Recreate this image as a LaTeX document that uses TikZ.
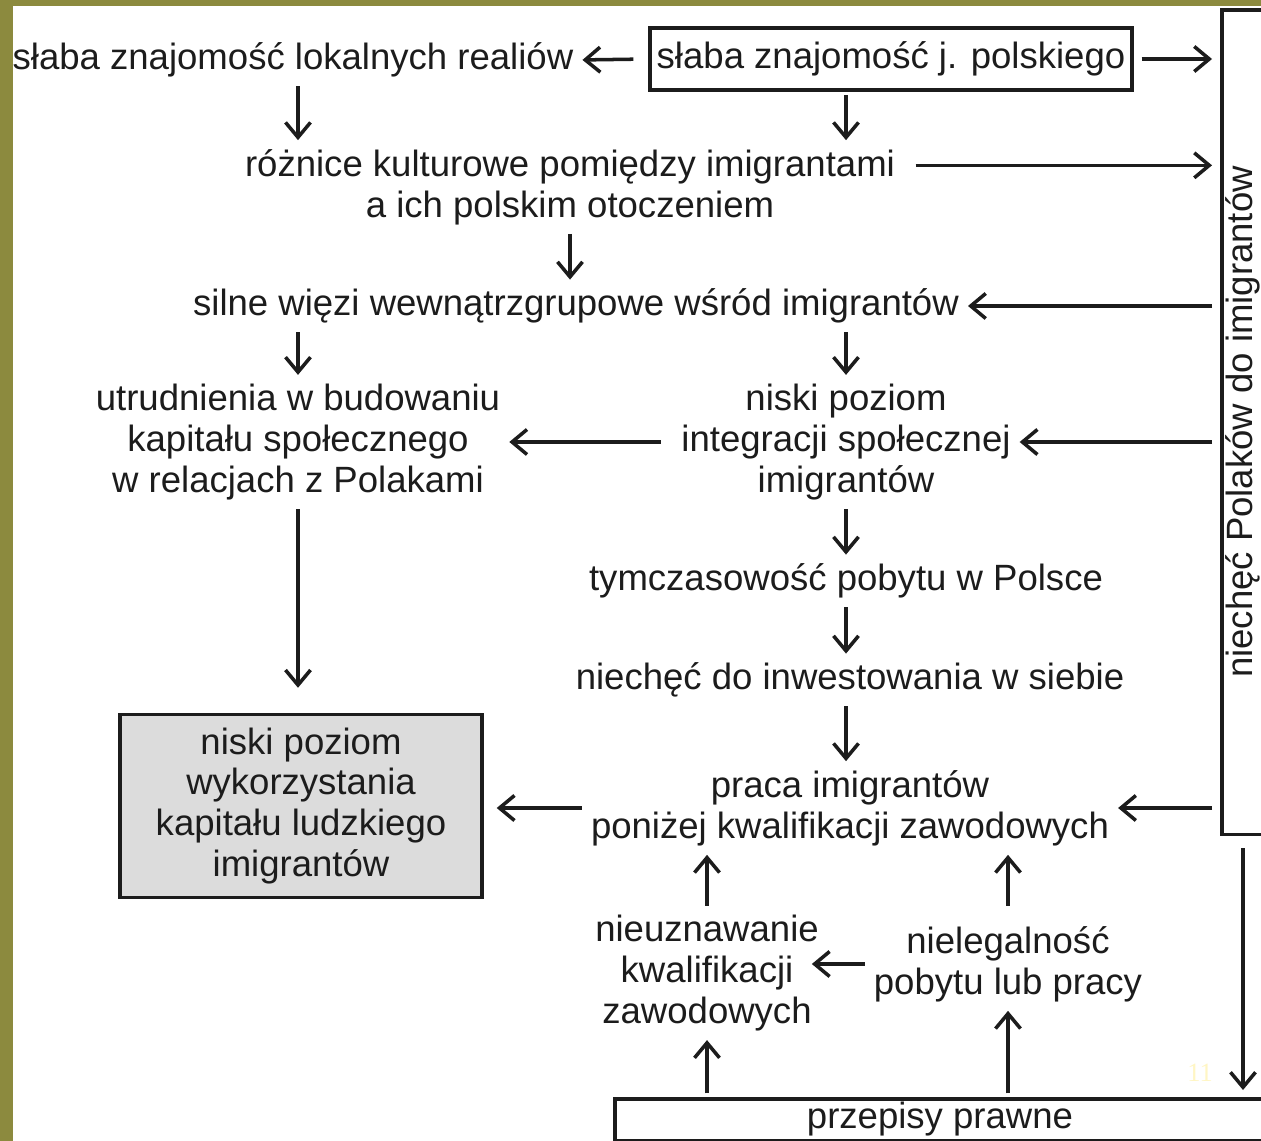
\documentclass[tikz,border=0pt]{standalone}
\usepackage{fontspec}
\setmainfont{Liberation Sans}
\newfontfamily\numfont{Liberation Serif}
\usetikzlibrary{arrows.meta,positioning,calc}

\definecolor{olivebg}{RGB}{140,138,62}
\definecolor{boxgray}{RGB}{220,220,220}
\definecolor{inkgray}{RGB}{28,28,28}
\definecolor{slideno}{RGB}{255,246,196}

\tikzset{
  lbl/.style={font=\fontsize{20.8}{23.3}\selectfont, text=inkgray, align=center, inner sep=3pt},
  frm/.style={draw=inkgray, line width=2pt},
  arr/.style={-{Straight Barb[length=0.3cm,width=0.5cm]}, line width=2pt, draw=inkgray, shorten <=2pt, shorten >=2pt},
}

\begin{document}
\begin{tikzpicture}[x=0.02cm, y=-0.02cm]
  % slide background
  \useasboundingbox (0,0) rectangle (1261,1141);
  \clip (0,0) rectangle (1261,1141);
  \fill[olivebg] (0,0) rectangle (1261,1141);
  \fill[white] (13,6) rectangle (1261,1141);

  % top row
  \node[lbl] (lok) at (293,60) {słaba znajomość lokalnych realiów};
  \node[lbl, frm, minimum width=9.64cm, minimum height=1.24cm] (pol) at (891,59) {słaba znajomość j. polskiego};

  % right frame (cut by the slide edge)
  \node[frm, minimum width=3cm, minimum height=16.5cm, anchor=north west] (neg) at (1220,8) {};
  \node[lbl, rotate=90] (negtxt) at (1243,422) {niechęć Polaków do imigrantów};

  % middle column
  \node[lbl] (roz) at (570,187) {różnice kulturowe pomiędzy imigrantami\\a ich polskim otoczeniem};
  \coordinate (rozr) at ($(roz.north east)!0.25!(roz.south east)$);
  \node[lbl] (wiez) at (576,306) {silne więzi wewnątrzgrupowe wśród imigrantów};
  \node[lbl] (utr) at (298,442) {utrudnienia w budowaniu\\kapitału społecznego\\w relacjach z Polakami};
  \node[lbl] (int) at (846,442) {niski poziom\\integracji społecznej\\imigrantów};
  \node[lbl] (tym) at (846,581) {tymczasowość pobytu w Polsce};
  \node[lbl] (inw) at (850,680) {niechęć do inwestowania w siebie};
  \node[lbl] (pra) at (850,808) {praca imigrantów\\poniżej kwalifikacji zawodowych};
  \node[lbl, frm, fill=boxgray, minimum width=7.24cm, minimum height=3.66cm] (kap) at (301,806) {niski poziom\\wykorzystania\\kapitału ludzkiego\\imigrantów};

  % bottom
  \node[lbl] (nieu) at (707,973) {nieuznawanie\\kwalifikacji\\zawodowych};
  \node[lbl] (nleg) at (1008,964) {nielegalność\\pobytu lub pracy};
  \node[frm, minimum width=15cm, minimum height=0.84cm, anchor=north west] (prz) at (613,1097) {};
  \node[lbl] (prztxt) at (940,1119) {przepisy prawne};
  \node[font=\numfont\fontsize{15}{15}\selectfont, text=slideno] (num) at (1200,1073) {11};

  % arrows
  \draw[arr, shorten <=0.3cm] (pol.west) -- (lok.east);
  \draw[arr, shorten <=0.16cm, shorten >=0.16cm] (pol.east) -- (pol.east -| neg.west);
  \draw[arr] (lok.south -| utr) -- (utr |- roz.north);
  \draw[arr] (pol.south -| int) -- (int |- roz.north);
  \draw[arr, shorten <=0.3cm, shorten >=0.16cm] (rozr) -- (rozr -| neg.west);
  \draw[arr] (roz.south) -- (roz.south |- wiez.north);
  \draw[arr, shorten <=0.16cm] (wiez.east -| neg.west) -- (wiez.east);
  \draw[arr] (wiez.south -| utr) -- (utr);
  \draw[arr] (wiez.south -| int) -- (int);
  \draw[arr, shorten <=0.16cm] (int.east -| neg.west) -- (int.east);
  \draw[arr, shorten <=0.3cm] (int.west) -- (utr.east);
  \draw[arr, shorten >=0.5cm] (utr) -- (utr |- kap.north);
  \draw[arr] (int) -- (tym);
  \draw[arr] (tym.south -| int) -- (int |- inw.north);
  \draw[arr] (inw.south -| int) -- (int |- pra.north);
  \draw[arr, shorten <=0.16cm] (pra.east -| neg.west) -- (pra.east);
  \draw[arr, shorten >=0.26cm] (pra.west) -- (pra.west -| kap.east);
  \draw[arr] (nieu) -- (nieu |- pra.south);
  \draw[arr, shorten <=0.3cm] (nleg) -- (nleg |- pra.south);
  \draw[arr, shorten >=-0.25cm] (nleg.west) -- (nleg.west -| nieu.east);
  \draw[arr] (prz.north -| nieu) -- (nieu);
  \draw[arr] (prz.north -| nleg) -- (nleg);
  \draw[arr, shorten <=0.24cm, shorten >=0.14cm] (neg.south -| negtxt) -- (negtxt |- prz.north);
\end{tikzpicture}
\end{document}
